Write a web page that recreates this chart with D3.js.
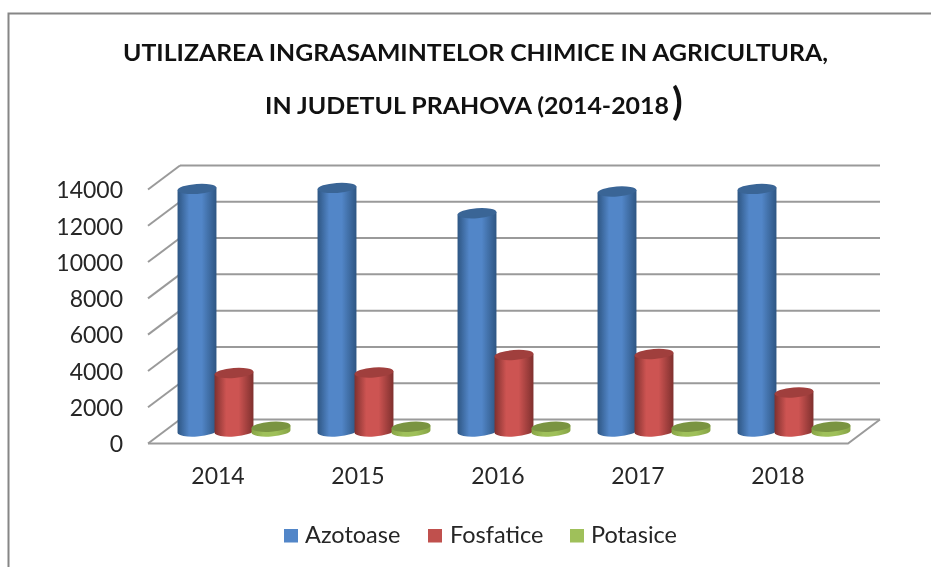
<!DOCTYPE html>
<html>
<head>
	<meta charset="utf-8">
	<title>Utilizarea ingrasamintelor chimice</title>
	<script src="https://d3js.org/d3.v7.min.js"></script>
	<style>
		html, body { margin: 0; padding: 0; background: #fff; overflow: hidden; }
		svg { display: block; filter: blur(0.45px); font-family: Lato, sans-serif; }
		.axis path, .axis line { display: none; }
		.axis text { font-family: Lato, sans-serif; fill: #262626; }
		.grid { stroke: #9a9a9a; stroke-width: 2px; fill: none; }
	</style>
</head>
<body>
<svg id="chart" width="931" height="567"></svg>
<script>
var years = ['2014', '2015', '2016', '2017', '2018'];
var seriesNames = ['Azotoase', 'Fosfatice', 'Potasice'];
var azotoase = [13370, 13425, 12030, 13230, 13370];
var fosfatice = [3225, 3250, 4215, 4270, 2150];
var potasice = [260, 260, 260, 260, 260];
var yTicks = [0, 2000, 4000, 6000, 8000, 10000, 12000, 14000];
var titleLines = ['UTILIZAREA INGRASAMINTELOR CHIMICE IN AGRICULTURA,', 'IN JUDETUL PRAHOVA (2014-2018'];

var seriesValues = [azotoase, fosfatice, potasice];
var colors = [
	{ edge: '#2e5683', mid: '#5286c8', top: '#3a6596' },
	{ edge: '#7f302e', mid: '#cd5452', top: '#a03f3d' },
	{ edge: '#86a344', mid: '#9fc05a', top: '#7a9441' }
];

var svg = d3.select('#chart');

// the chart is a fake 3D box: front edge plus a depth offset to the back wall
var plotLeft = 148, plotRight = 848, plotBottom = 443.5, plotTop = 189.5;
var depthX = 32, depthY = -24;
var tilt = 4, radius = 19.5, ry = 5;

var x = d3.scaleBand().domain(years).range([plotLeft, plotRight]);
var inner = d3.scaleBand().domain(seriesNames).range([-55.5, 55.5]);
var y = d3.scaleLinear().domain([0, 14000]).range([plotBottom, plotTop]);

// outer frame, only top and left are visible
svg.append('path')
	.attr('d', 'M8.5,567V13.5H931')
	.attr('fill', 'none')
	.attr('stroke', '#868686')
	.attr('stroke-width', 2);

// title
var title = svg.append('g').attr('fill', '#111').attr('font-weight', 700);
title.append('text')
	.attr('x', 475.5).attr('y', 60.5)
	.attr('text-anchor', 'middle')
	.attr('font-size', 23.5)
	.attr('textLength', 705)
	.attr('lengthAdjust', 'spacingAndGlyphs')
	.text(titleLines[0]);
title.append('text')
	.attr('x', 265).attr('y', 113.5)
	.attr('font-size', 23.5)
	.attr('textLength', 404)
	.attr('lengthAdjust', 'spacingAndGlyphs')
	.text(titleLines[1]);
title.append('text')
	.attr('x', 672).attr('y', 115)
	.attr('font-size', 39)
	.text(')');

// gridlines: back wall and the diagonal on the side wall
var grid = svg.append('g').attr('class', 'grid');
grid.selectAll('.back').data(yTicks).enter().append('line')
	.attr('x1', plotLeft + depthX).attr('x2', plotRight + depthX)
	.attr('y1', function(d){ return y(d) + depthY; })
	.attr('y2', function(d){ return y(d) + depthY; });
grid.selectAll('.side').data(yTicks).enter().append('line')
	.attr('x1', plotLeft).attr('x2', plotLeft + depthX)
	.attr('y1', function(d){ return y(d); })
	.attr('y2', function(d){ return y(d) + depthY; });
grid.append('path')
	.attr('d', 'M' + plotLeft + ',' + y(0) + 'H' + plotRight + 'L' + (plotRight + depthX) + ',' + (y(0) + depthY));

// axis labels
var yAxis = d3.axisLeft(y).tickValues(yTicks).tickFormat(d3.format('d')).tickSize(0).tickPadding(0);
svg.append('g').attr('class', 'axis')
	.attr('transform', 'translate(123,0)')
	.call(yAxis)
	.selectAll('text').attr('font-size', 23).attr('dy', '0.36em');

var xAxis = d3.axisBottom(x).tickSize(0).tickPadding(0);
svg.append('g').attr('class', 'axis')
	.attr('transform', 'translate(0,484)')
	.call(xAxis)
	.selectAll('text').attr('font-size', 23).attr('y', 0).attr('dy', 0);

// cylinder shading
var defs = svg.append('defs');
colors.forEach(function(c, i){
	var g = defs.append('linearGradient').attr('id', 'cyl' + i);
	g.append('stop').attr('offset', '0%').attr('stop-color', c.edge);
	g.append('stop').attr('offset', '30%').attr('stop-color', c.mid);
	g.append('stop').attr('offset', '62%').attr('stop-color', c.mid);
	g.append('stop').attr('offset', '100%').attr('stop-color', c.edge);
});

// cylinders sit in the middle of the depth
var ex = radius * Math.cos(tilt * Math.PI / 180);
var ey = radius * Math.sin(tilt * Math.PI / 180);
var baseY = y(0) + depthY / 2;

function bodyPath(cx, topY) {
	return 'M' + (cx - ex) + ',' + (topY + ey)
		+ 'L' + (cx - ex) + ',' + (baseY + ey)
		+ 'A' + radius + ',' + ry + ' ' + (-tilt) + ' 0 0 ' + (cx + ex) + ',' + (baseY - ey)
		+ 'L' + (cx + ex) + ',' + (topY - ey) + 'Z';
}

var bars = svg.append('g');
years.forEach(function(year, yi){
	seriesNames.forEach(function(name, si){
		var cx = x(year) + x.bandwidth() / 2 + depthX / 2 + inner.bandwidth() / 2 + inner(name);
		var topY = baseY - (y(0) - y(seriesValues[si][yi]));
		bars.append('path')
			.attr('d', bodyPath(cx, topY))
			.attr('fill', 'url(#cyl' + si + ')');
		bars.append('ellipse')
			.attr('cx', cx).attr('cy', topY)
			.attr('rx', radius).attr('ry', ry)
			.attr('transform', 'rotate(' + (-tilt) + ' ' + cx + ' ' + topY + ')')
			.attr('fill', colors[si].top);
	});
});

// legend
var legendSwatchX = [284, 428, 570];
var legendTextX = [305, 450, 591];
var legend = svg.append('g');
seriesNames.forEach(function(name, i){
	legend.append('rect')
		.attr('x', legendSwatchX[i]).attr('y', 529)
		.attr('width', 14).attr('height', 13.5)
		.attr('fill', [colors[0].mid, '#c0504d', colors[2].mid][i]);
	legend.append('text')
		.attr('x', legendTextX[i]).attr('y', 543)
		.attr('font-size', 23.5)
		.attr('fill', '#262626')
		.text(name);
});
</script>
</body>
</html>
